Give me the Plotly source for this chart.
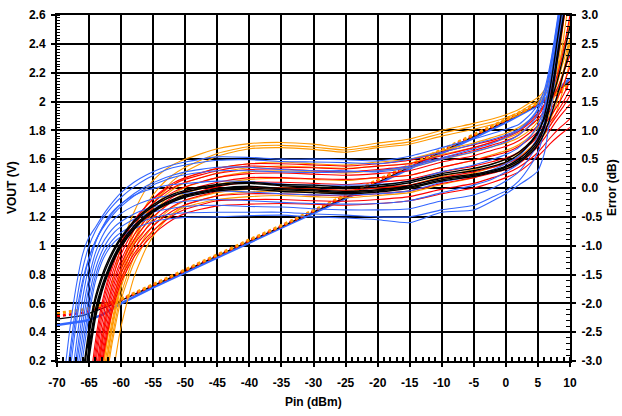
import plotly.graph_objects as go

# ---------------- data ----------------
X_TICKS = [-70, -65, -60, -55, -50, -45, -40, -35, -30, -25, -20, -15, -10, -5, 0, 5, 10]
X_TICK_TEXT = ["-70", "-65", "-60", "-55", "-50", "-45", "-40", "-35", "-30", "-25",
               "-20", "-15", "-10", "-5", "0", "5", "10"]
Y_TICKS = [0.2, 0.4, 0.6, 0.8, 1.0, 1.2, 1.4, 1.6, 1.8, 2.0, 2.2, 2.4, 2.6]
Y_TICK_TEXT = ["0.2", "0.4", "0.6", "0.8", "1", "1.2", "1.4", "1.6", "1.8", "2", "2.2", "2.4", "2.6"]
E_TICKS = [-3.0, -2.5, -2.0, -1.5, -1.0, -0.5, 0.0, 0.5, 1.0, 1.5, 2.0, 2.5, 3.0]
E_TICK_TEXT = ["-3.0", "-2.5", "-2.0", "-1.5", "-1.0", "-0.5", "0.0", "0.5", "1.0", "1.5", "2.0", "2.5", "3.0"]

# Pin (dBm) sample points for the error curves (dB)
ERR_X = [-69, -68, -67, -66, -65, -64, -63, -62, -61, -60, -58, -56, -54, -52, -50,
         -45, -40, -35, -30, -25, -20, -15, -10, -5, -2, 0, 2, 4, 5, 6, 7, 8, 9, 10]

ERR_BLUE = [
    [-3.4, -2.45, -1.7, -1.15, -0.85, -0.68, -0.5, -0.34, -0.2, -0.08, 0.1, 0.23, 0.33, 0.4, 0.45, 0.54, 0.53, 0.5, 0.5, 0.49, 0.47, 0.55, 0.7, 0.85, 0.95, 1.02, 1.1, 1.3, 1.45, 1.7, 2.2, 2.9, 3.7, 4.6],
    [-3.7, -2.85, -2.0, -1.4, -1.0, -0.74, -0.55, -0.4, -0.27, -0.16, 0.02, 0.16, 0.27, 0.35, 0.4, 0.48, 0.49, 0.46, 0.45, 0.44, 0.42, 0.5, 0.62, 0.76, 0.85, 0.92, 1.02, 1.22, 1.38, 1.62, 2.1, 2.8, 3.6, 4.5],
    [-3.9, -3.0, -2.2, -1.6, -1.2, -0.92, -0.72, -0.56, -0.43, -0.32, -0.14, 0.0, 0.1, 0.18, 0.23, 0.3, 0.3, 0.28, 0.27, 0.28, 0.3, 0.38, 0.52, 0.68, 0.78, 0.88, 1.0, 1.2, 1.35, 1.6, 2.15, 2.85, 3.6, 4.5],
    [-4.0, -3.2, -2.35, -1.68, -1.22, -0.92, -0.7, -0.53, -0.39, -0.28, -0.1, 0.04, 0.14, 0.22, 0.28, 0.36, 0.36, 0.32, 0.3, 0.3, 0.28, 0.35, 0.5, 0.63, 0.72, 0.8, 0.92, 1.12, 1.28, 1.55, 2.05, 2.75, 3.5, 4.4],
    [-4.4, -3.6, -2.7, -1.9, -1.35, -0.95, -0.7, -0.5, -0.37, -0.27, -0.13, -0.04, 0.02, 0.06, 0.08, 0.12, 0.11, 0.07, 0.05, 0.05, 0.06, 0.12, 0.28, 0.4, 0.5, 0.58, 0.7, 0.92, 1.1, 1.42, 1.95, 2.65, 3.45, 4.3],
    [-4.6, -3.8, -2.95, -2.15, -1.55, -1.12, -0.85, -0.66, -0.53, -0.44, -0.31, -0.22, -0.16, -0.12, -0.09, -0.05, -0.07, -0.1, -0.12, -0.12, -0.1, -0.05, 0.1, 0.22, 0.32, 0.42, 0.55, 0.8, 1.0, 1.35, 1.9, 2.6, 3.4, 4.2],
    [-4.7, -3.9, -3.1, -2.35, -1.7, -1.25, -0.98, -0.8, -0.67, -0.58, -0.45, -0.36, -0.3, -0.26, -0.23, -0.2, -0.22, -0.25, -0.27, -0.28, -0.27, -0.22, -0.08, 0.05, 0.16, 0.28, 0.42, 0.7, 0.9, 1.28, 1.85, 2.55, 3.35, 4.2],
    [-4.9, -4.1, -3.3, -2.55, -1.88, -1.4, -1.1, -0.9, -0.76, -0.67, -0.54, -0.45, -0.39, -0.35, -0.32, -0.3, -0.32, -0.33, -0.36, -0.38, -0.38, -0.36, -0.22, -0.12, 0.0, 0.12, 0.28, 0.58, 0.78, 1.15, 1.75, 2.45, 3.25, 4.1],
    [-5.1, -4.3, -3.5, -2.75, -2.05, -1.52, -1.2, -1.0, -0.86, -0.77, -0.64, -0.55, -0.49, -0.45, -0.43, -0.42, -0.42, -0.42, -0.45, -0.47, -0.5, -0.5, -0.38, -0.3, -0.15, -0.05, 0.12, 0.42, 0.62, 1.0, 1.6, 2.35, 3.15, 4.0],
    [-5.3, -4.5, -3.7, -2.95, -2.2, -1.62, -1.28, -1.07, -0.93, -0.84, -0.71, -0.62, -0.56, -0.53, -0.51, -0.5, -0.48, -0.47, -0.5, -0.52, -0.55, -0.6, -0.42, -0.38, -0.22, -0.1, 0.05, 0.2, 0.3, 0.6, 1.3, 2.2, 3.05, 3.9],
]

ERR_ORANGE = [
    [-6, -6, -6, -6, -5.0, -3.6, -2.7, -2.0, -1.45, -1.02, -0.42, 0.0, 0.24, 0.4, 0.5, 0.68, 0.77, 0.79, 0.76, 0.7, 0.78, 0.85, 1.0, 1.12, 1.2, 1.27, 1.36, 1.5, 1.57, 1.7, 1.95, 2.4, 3.1, 3.9],
    [-6, -6, -6, -6, -5.4, -4.3, -3.3, -2.5, -1.88, -1.4, -0.72, -0.28, 0.02, 0.22, 0.36, 0.6, 0.72, 0.74, 0.71, 0.66, 0.73, 0.8, 0.95, 1.07, 1.15, 1.22, 1.31, 1.45, 1.52, 1.65, 1.9, 2.5, 3.3, 4.2],
    [-6, -6, -6, -6, -6, -4.6, -3.6, -2.8, -2.15, -1.65, -0.95, -0.45, -0.12, 0.12, 0.28, 0.55, 0.68, 0.7, 0.67, 0.62, 0.7, 0.76, 0.9, 1.02, 1.1, 1.18, 1.27, 1.4, 1.48, 1.6, 1.78, 2.05, 2.45, 2.9],
    [-6, -6, -6, -6, -5.2, -4.0, -3.1, -2.4, -1.85, -1.42, -0.82, -0.42, -0.14, 0.05, 0.17, 0.34, 0.42, 0.45, 0.42, 0.4, 0.45, 0.5, 0.65, 0.78, 0.88, 0.95, 1.05, 1.2, 1.3, 1.42, 1.6, 1.85, 2.2, 2.6],
    [-6, -6, -6, -6, -5.5, -4.2, -3.25, -2.52, -1.95, -1.5, -0.9, -0.5, -0.22, -0.03, 0.09, 0.26, 0.35, 0.38, 0.36, 0.34, 0.38, 0.43, 0.58, 0.7, 0.8, 0.86, 0.95, 1.1, 1.2, 1.32, 1.5, 1.8, 2.3, 2.9],
    [-6, -6, -6, -6, -5.8, -4.45, -3.45, -2.68, -2.08, -1.6, -0.98, -0.58, -0.3, -0.11, 0.01, 0.18, 0.28, 0.3, 0.28, 0.26, 0.3, 0.35, 0.5, 0.62, 0.72, 0.78, 0.87, 1.03, 1.15, 1.28, 1.45, 1.7, 2.05, 2.5],
    [-6, -6, -6, -6, -6, -4.7, -3.65, -2.85, -2.22, -1.72, -1.08, -0.68, -0.4, -0.21, -0.09, 0.06, 0.15, 0.17, 0.15, 0.13, 0.18, 0.22, 0.36, 0.48, 0.58, 0.65, 0.75, 0.92, 1.05, 1.2, 1.45, 1.9, 2.6, 3.4],
    [-6, -6, -6, -6, -6, -4.9, -3.8, -2.98, -2.35, -1.84, -1.2, -0.8, -0.53, -0.34, -0.22, -0.08, -0.02, 0.0, -0.02, -0.04, 0.0, 0.05, 0.2, 0.32, 0.42, 0.5, 0.6, 0.78, 0.9, 1.05, 1.35, 2.0, 2.9, 3.8],
    [-6, -6, -6, -6, -6, -5.1, -3.95, -3.1, -2.45, -1.94, -1.3, -0.9, -0.63, -0.45, -0.33, -0.2, -0.15, -0.13, -0.15, -0.17, -0.13, -0.08, 0.06, 0.18, 0.28, 0.36, 0.46, 0.64, 0.78, 0.92, 1.1, 1.35, 1.75, 2.2],
    [-6, -6, -6, -6, -6, -6, -5.0, -3.9, -3.05, -2.4, -1.55, -1.02, -0.68, -0.45, -0.3, -0.13, -0.07, -0.05, -0.07, -0.08, -0.04, 0.0, 0.14, 0.26, 0.36, 0.44, 0.54, 0.72, 0.85, 1.0, 1.2, 1.5, 2.0, 2.6],
]

ERR_RED = [
    [-6, -6, -6, -5.0, -3.8, -2.8, -2.1, -1.62, -1.26, -0.98, -0.58, -0.3, -0.08, 0.08, 0.18, 0.34, 0.42, 0.42, 0.4, 0.38, 0.42, 0.48, 0.62, 0.75, 0.83, 0.9, 1.0, 1.18, 1.3, 1.45, 1.65, 1.95, 2.4, 3.0],
    [-6, -6, -6, -4.8, -3.6, -2.65, -2.0, -1.55, -1.2, -0.94, -0.56, -0.3, -0.1, 0.05, 0.15, 0.3, 0.38, 0.36, 0.35, 0.33, 0.38, 0.42, 0.56, 0.7, 0.8, 0.88, 0.98, 1.15, 1.25, 1.42, 1.7, 2.2, 2.9, 3.6],
    [-6, -6, -6, -5.2, -4.0, -2.95, -2.22, -1.72, -1.35, -1.06, -0.65, -0.37, -0.16, 0.0, 0.1, 0.25, 0.32, 0.33, 0.3, 0.28, 0.32, 0.38, 0.52, 0.65, 0.75, 0.82, 0.92, 1.1, 1.2, 1.33, 1.5, 1.72, 2.0, 2.3],
    [-6, -6, -6, -5.4, -4.2, -3.1, -2.35, -1.83, -1.45, -1.15, -0.73, -0.45, -0.24, -0.08, 0.02, 0.18, 0.25, 0.26, 0.24, 0.22, 0.25, 0.3, 0.45, 0.56, 0.66, 0.72, 0.82, 0.98, 1.08, 1.2, 1.36, 1.55, 1.8, 2.1],
    [-6, -6, -6, -5.6, -4.4, -3.3, -2.5, -1.95, -1.55, -1.25, -0.82, -0.53, -0.32, -0.16, -0.05, 0.1, 0.18, 0.18, 0.16, 0.15, 0.18, 0.22, 0.36, 0.48, 0.56, 0.62, 0.72, 0.88, 0.98, 1.1, 1.25, 1.42, 1.62, 1.85],
    [-6, -6, -6, -5.8, -4.6, -3.45, -2.62, -2.05, -1.63, -1.32, -0.9, -0.61, -0.4, -0.24, -0.13, 0.02, 0.1, 0.1, 0.08, 0.06, 0.1, 0.15, 0.28, 0.38, 0.46, 0.52, 0.62, 0.78, 0.9, 1.02, 1.16, 1.32, 1.5, 1.7],
    [-6, -6, -6, -6, -4.8, -3.6, -2.75, -2.15, -1.72, -1.4, -0.98, -0.69, -0.48, -0.32, -0.21, -0.06, 0.0, 0.0, -0.02, -0.04, 0.0, 0.05, 0.18, 0.28, 0.36, 0.42, 0.52, 0.7, 0.82, 0.95, 1.1, 1.26, 1.42, 1.6],
    [-6, -6, -6, -6, -5.0, -3.75, -2.88, -2.26, -1.81, -1.48, -1.06, -0.77, -0.56, -0.4, -0.29, -0.14, -0.1, -0.1, -0.12, -0.14, -0.1, -0.05, 0.08, 0.18, 0.26, 0.32, 0.42, 0.6, 0.72, 0.86, 1.02, 1.18, 1.32, 1.45],
    [-6, -6, -6, -6, -5.2, -3.9, -3.0, -2.36, -1.9, -1.56, -1.14, -0.85, -0.64, -0.48, -0.37, -0.22, -0.2, -0.2, -0.22, -0.23, -0.2, -0.15, -0.02, 0.08, 0.18, 0.25, 0.36, 0.52, 0.62, 0.75, 0.88, 1.0, 1.1, 1.2],
    [-6, -6, -6, -6, -5.4, -4.05, -3.1, -2.45, -1.98, -1.63, -1.2, -0.92, -0.71, -0.55, -0.44, -0.31, -0.28, -0.27, -0.28, -0.3, -0.27, -0.22, -0.1, 0.0, 0.1, 0.18, 0.28, 0.45, 0.55, 0.66, 0.78, 0.88, 0.97, 1.05],
]

ERR_BLACK = [
    [-6, -5.2, -4.4, -3.55, -2.75, -2.1, -1.7, -1.4, -1.15, -0.95, -0.66, -0.46, -0.31, -0.2, -0.12, -0.01, 0.03, -0.01, -0.03, -0.06, -0.03, 0.04, 0.17, 0.24, 0.31, 0.38, 0.5, 0.7, 0.85, 1.1, 1.6, 2.3, 3.0, 3.8],
    [-5.8, -5.0, -4.2, -3.35, -2.55, -1.95, -1.58, -1.3, -1.07, -0.88, -0.6, -0.4, -0.25, -0.14, -0.07, 0.04, 0.08, 0.04, 0.02, -0.01, 0.02, 0.09, 0.22, 0.3, 0.38, 0.45, 0.58, 0.8, 0.95, 1.25, 1.8, 2.55, 3.3, 4.1],
    [-6, -5.4, -4.6, -3.75, -2.95, -2.25, -1.8, -1.48, -1.22, -1.02, -0.72, -0.5, -0.35, -0.24, -0.16, -0.05, -0.02, -0.06, -0.08, -0.1, -0.07, 0.0, 0.12, 0.2, 0.27, 0.33, 0.44, 0.62, 0.75, 0.95, 1.25, 1.6, 2.0, 2.4],
    [-5.7, -4.9, -4.1, -3.25, -2.45, -1.88, -1.52, -1.25, -1.03, -0.85, -0.57, -0.37, -0.22, -0.11, -0.04, 0.06, 0.1, 0.06, 0.05, 0.02, 0.05, 0.12, 0.25, 0.34, 0.42, 0.5, 0.62, 0.82, 0.98, 1.2, 1.5, 1.85, 2.3, 2.8],
    [-6, -5.3, -4.5, -3.65, -2.85, -2.18, -1.75, -1.44, -1.19, -0.99, -0.69, -0.48, -0.33, -0.22, -0.14, -0.03, 0.0, -0.03, -0.05, -0.08, -0.05, 0.02, 0.14, 0.22, 0.29, 0.36, 0.47, 0.66, 0.8, 1.05, 1.5, 2.2, 2.95, 3.7],
]

# VOUT (V) transfer curves
VOUT_X = [-70, -68, -66, -65, -64, -63, -62, -61, -60, -55, -50, -45, -40, -35, -30, -25, -20, -15, -10, -5, 0, 5, 8, 10]
VOUT_BLUE = [0.45, 0.46, 0.475, 0.485, 0.5, 0.52, 0.545, 0.57, 0.6, 0.71, 0.815, 0.92, 1.02, 1.125, 1.225, 1.325, 1.43, 1.535, 1.64, 1.745, 1.855, 1.975, 2.08, 2.16]
VOUT_BLACK = [0.49, 0.5, 0.515, 0.53, 0.545, 0.56, 0.58, 0.6, 0.62, 0.72, 0.825, 0.93, 1.03, 1.13, 1.235, 1.335, 1.44, 1.545, 1.65, 1.755, 1.865, 1.98, 2.07, 2.14]
VOUT_RED = [0.51, 0.52, 0.535, 0.545, 0.56, 0.575, 0.59, 0.605, 0.625, 0.725, 0.83, 0.935, 1.035, 1.135, 1.24, 1.34, 1.445, 1.55, 1.655, 1.76, 1.87, 1.98, 2.05, 2.1]
VOUT_ORANGE = [0.53, 0.54, 0.555, 0.565, 0.575, 0.59, 0.6, 0.615, 0.63, 0.73, 0.835, 0.94, 1.04, 1.14, 1.245, 1.345, 1.45, 1.555, 1.66, 1.765, 1.875, 1.99, 2.06, 2.12]

BLUE = "#3366FF"
ORANGE = "#FF9900"
RED = "#FF0000"
BLACK = "#000000"

fig = go.Figure()

def err_trace(ys, color, width=1.1):
    return go.Scatter(x=ERR_X, y=ys, yaxis="y2", mode="lines",
                      line=dict(color=color, width=width, shape="spline", smoothing=0.6),
                      hoverinfo="skip", showlegend=False)

for ys in ERR_ORANGE:
    fig.add_trace(err_trace(ys, ORANGE))
for ys in ERR_RED:
    fig.add_trace(err_trace(ys, RED))
for ys in ERR_BLUE:
    fig.add_trace(err_trace(ys, BLUE))
for ys in ERR_BLACK:
    fig.add_trace(err_trace(ys, BLACK, 1.4))

def vout_trace(ys, color, width, dash="solid"):
    return go.Scatter(x=VOUT_X, y=ys, mode="lines",
                      line=dict(color=color, width=width, dash=dash),
                      hoverinfo="skip", showlegend=False)

fig.add_trace(vout_trace(VOUT_BLUE, BLUE, 2.5))
fig.add_trace(vout_trace(VOUT_BLACK, BLACK, 1.2))
fig.add_trace(vout_trace(VOUT_RED, RED, 2.5, "dot"))
fig.add_trace(vout_trace(VOUT_ORANGE, ORANGE, 3, "dot"))

FONT = "Liberation Sans, Arial, sans-serif"
tickfont = dict(family=FONT, size=12, color="black", weight="bold")

fig.update_layout(
    width=622, height=416,
    margin=dict(l=57, r=52, t=8, b=55),
    plot_bgcolor="white", paper_bgcolor="white",
    showlegend=False,
    xaxis=dict(
        range=[-70, 10], tickmode="array", tickvals=X_TICKS, ticktext=X_TICK_TEXT,
        showgrid=True, gridcolor="black", gridwidth=2, zeroline=False,
        showline=True, linecolor="black", linewidth=2, mirror=True,
        ticks="outside", ticklen=4, tickwidth=2, tickcolor="black",
        minor=dict(tickmode="linear", tick0=-70, dtick=1, ticks="inside", ticklen=4,
                   tickwidth=1.5, tickcolor="black", showgrid=False),
        tickfont=tickfont, ticklabelstandoff=6,
    ),
    yaxis=dict(
        range=[0.2, 2.6], tickmode="array", tickvals=Y_TICKS, ticktext=Y_TICK_TEXT,
        showgrid=True, gridcolor="black", gridwidth=2, zeroline=False,
        showline=True, linecolor="black", linewidth=2,
        ticks="outside", ticklen=4, tickwidth=2, tickcolor="black",
        minor=dict(tickmode="linear", tick0=0.2, dtick=0.02, ticks="inside", ticklen=3,
                   tickwidth=1.2, tickcolor="black", showgrid=False),
        tickfont=tickfont, ticklabelstandoff=3,
    ),
    yaxis2=dict(
        range=[-3, 3], overlaying="y", side="right",
        tickmode="array", tickvals=E_TICKS, ticktext=E_TICK_TEXT,
        showgrid=False, zeroline=False,
        showline=True, linecolor="black", linewidth=2,
        ticks="outside", ticklen=4, tickwidth=2, tickcolor="black",
        minor=dict(tickmode="linear", tick0=-3, dtick=0.1, ticks="inside", ticklen=4,
                   tickwidth=1.2, tickcolor="black", showgrid=False),
        tickfont=tickfont, ticklabelstandoff=3,
    ),
    annotations=[
        dict(text="Pin (dBm)", xref="paper", yref="paper", x=0.5, y=0, yshift=-41,
             xanchor="center", yanchor="middle", showarrow=False,
             font=dict(family=FONT, size=12, color="black", weight="bold")),
        dict(text="VOUT (V)", xref="paper", yref="paper", x=0, y=0.5, xshift=-45,
             xanchor="center", yanchor="middle", textangle=-90, showarrow=False,
             font=dict(family=FONT, size=12, color="black", weight="bold")),
        dict(text="Error (dB)", xref="paper", yref="paper", x=1, y=0.5, xshift=42,
             xanchor="center", yanchor="middle", textangle=-90, showarrow=False,
             font=dict(family=FONT, size=12, color="black", weight="bold")),
    ],
)

fig.write_html("out.html")
